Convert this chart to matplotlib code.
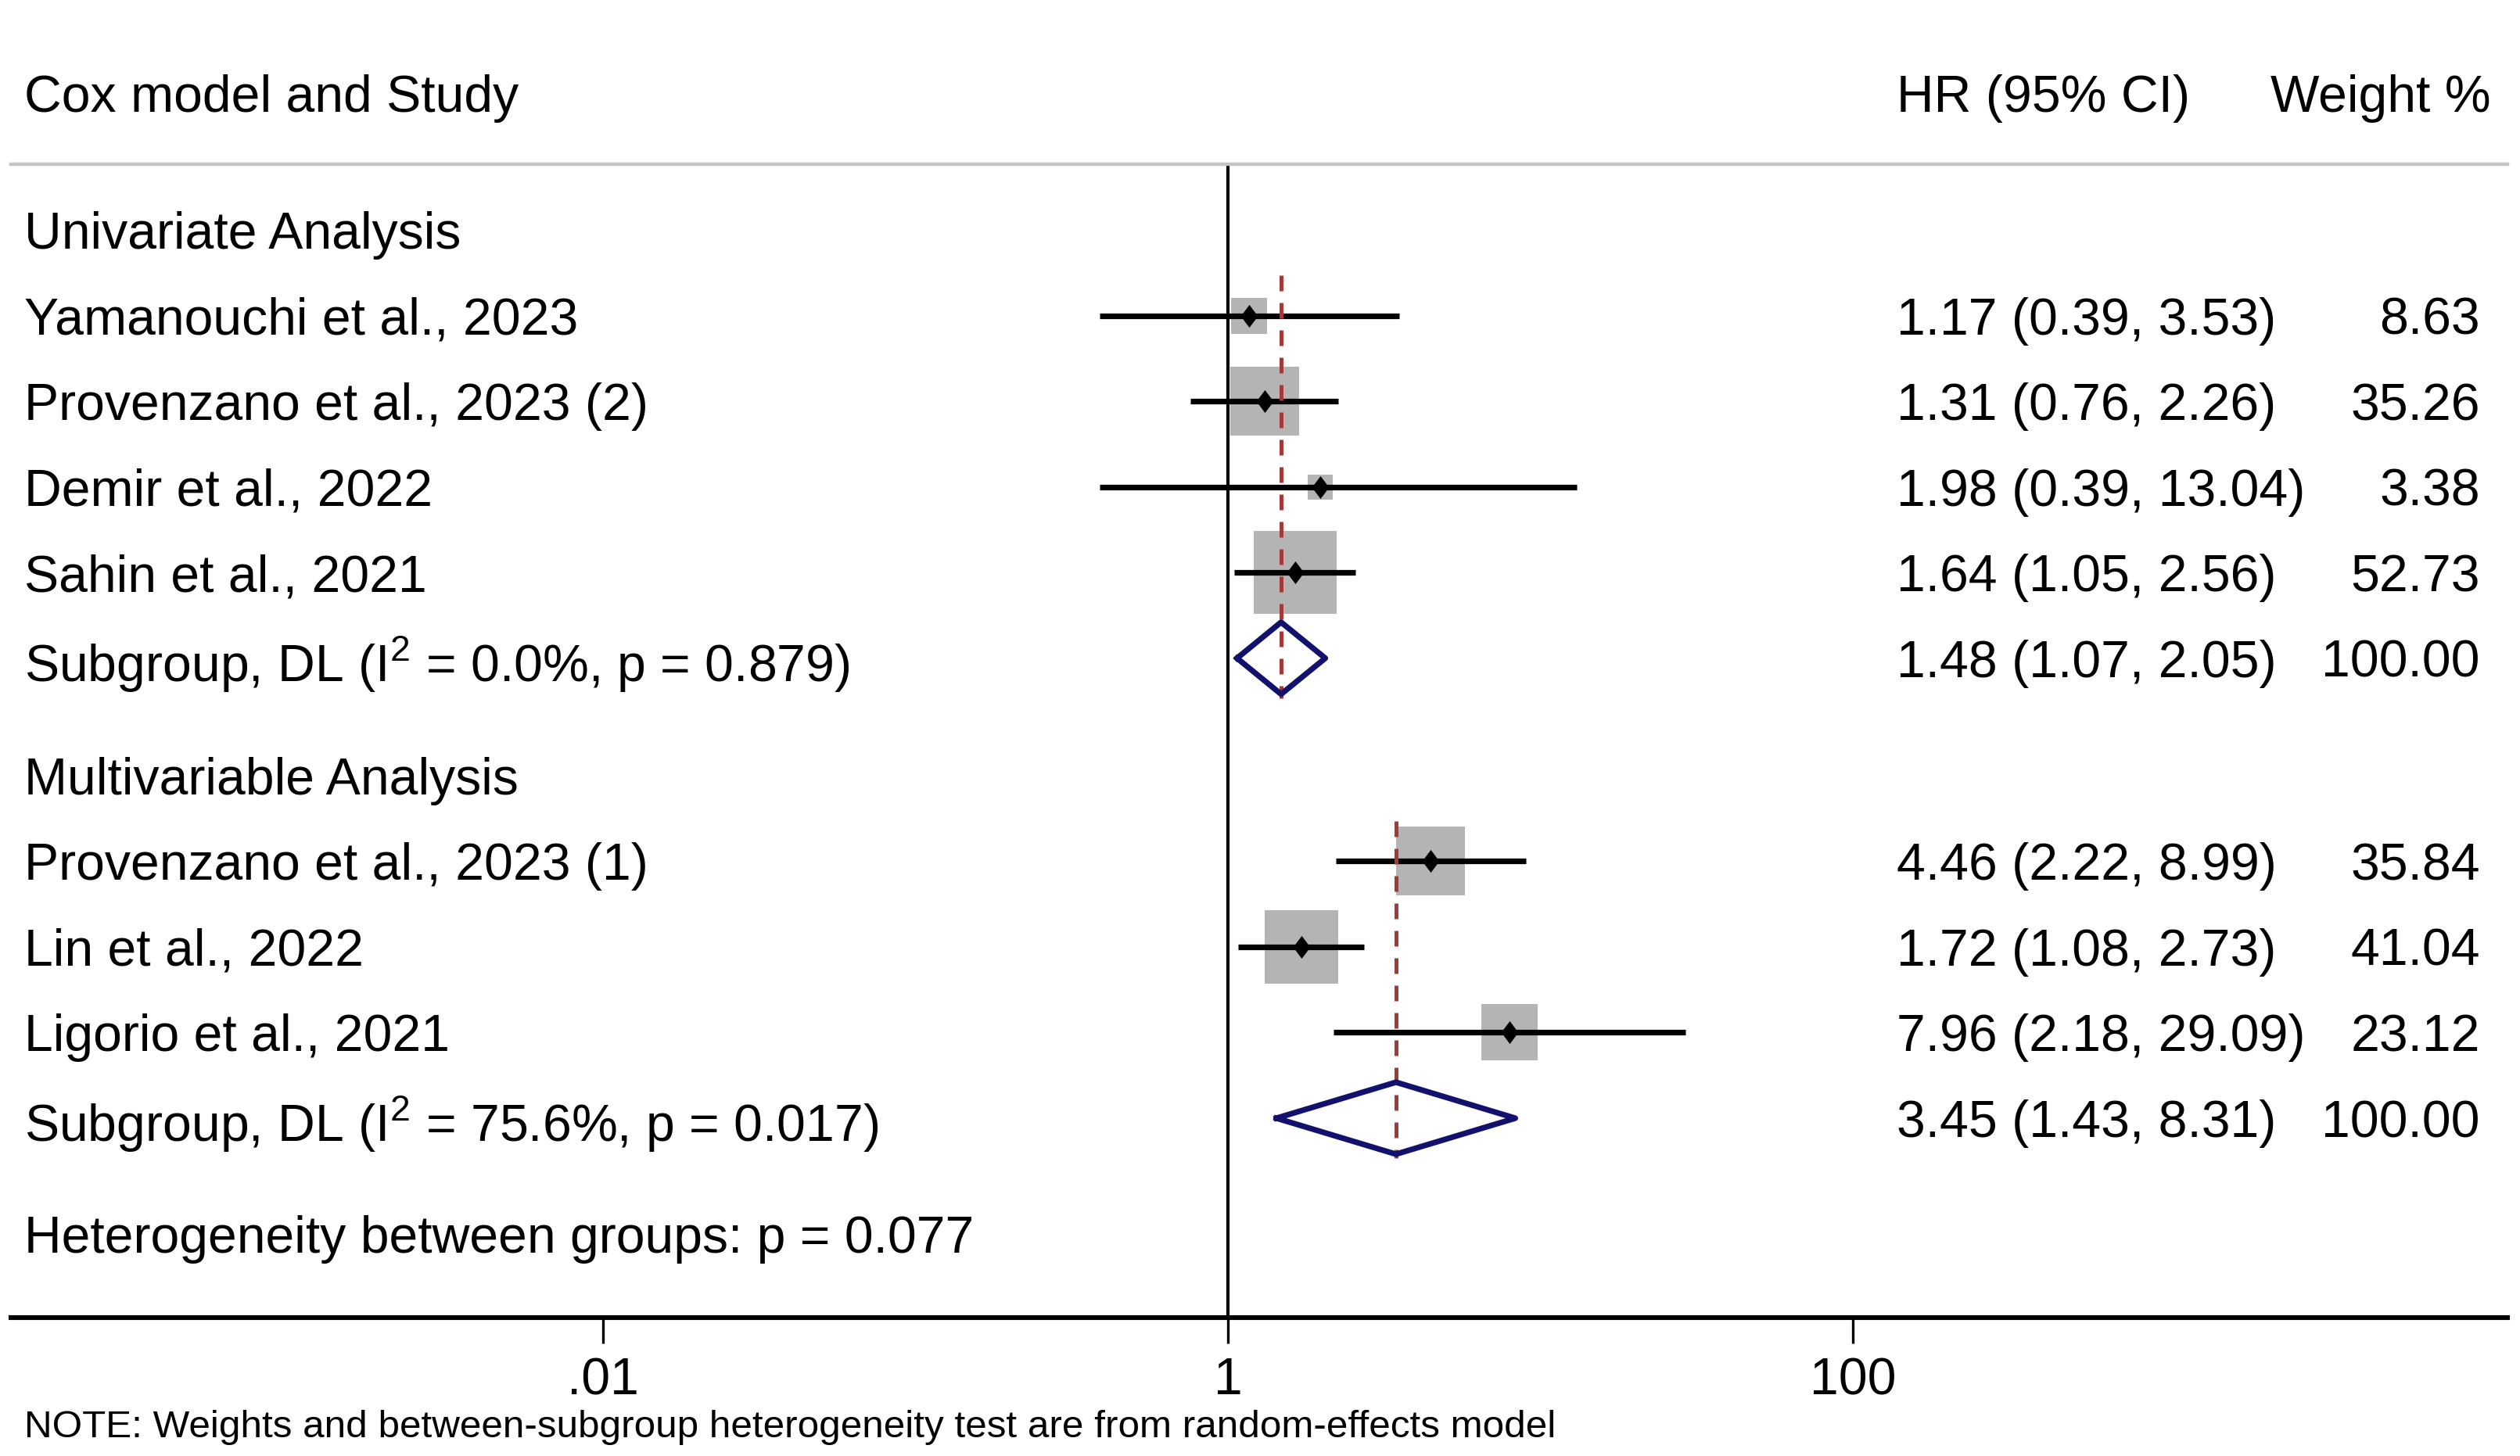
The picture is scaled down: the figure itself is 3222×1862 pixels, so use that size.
import numpy as np
import matplotlib
matplotlib.use('Agg')
import matplotlib.pyplot as plt
from matplotlib.ticker import FixedLocator, FixedFormatter, NullLocator

plt.rcParams['font.family'] = ['Liberation Sans', 'DejaVu Sans']
plt.rcParams['mathtext.fontset'] = 'custom'
plt.rcParams['mathtext.rm'] = 'Liberation Sans'

# data
group_names = ['Univariate Analysis', 'Multivariable Analysis']
studies = [
    'Yamanouchi et al., 2023',
    'Provenzano et al., 2023 (2)',
    'Demir et al., 2022',
    'Sahin et al., 2021',
    'Provenzano et al., 2023 (1)',
    'Lin et al., 2022',
    'Ligorio et al., 2021',
]
study_group = [0, 0, 0, 0, 1, 1, 1]
hr = [1.17, 1.31, 1.98, 1.64, 4.46, 1.72, 7.96]
ci_lo = [0.39, 0.76, 0.39, 1.05, 2.22, 1.08, 2.18]
ci_hi = [3.53, 2.26, 13.04, 2.56, 8.99, 2.73, 29.09]
weight = [8.63, 35.26, 3.38, 52.73, 35.84, 41.04, 23.12]

sub_hr = [1.48, 3.45]
sub_lo = [1.07, 1.43]
sub_hi = [2.05, 8.31]
sub_i2 = ['0.0%', '75.6%']
sub_p = ['0.879', '0.017']
het_p = '0.077'

tick_vals = [0.01, 1, 100]
tick_labels = ['.01', '1', '100']

FS = 23.8
GAP = 1.37

# row layout
rows = []          # (kind, y, index)
y = 0.0
for g in range(len(group_names)):
    rows.append(('group', y, g))
    y += 1
    for i, sg in enumerate(study_group):
        if sg == g:
            rows.append(('study', y, i))
            y += 1
    rows.append(('sub', y, g))
    y += GAP
het_y = y - GAP + 1.35

fig = plt.figure(figsize=(16.11, 9.31), dpi=200)
W, H = 1568.0, 906.0
ax = fig.add_axes([7 / W, 1 - 820 / H, 1553 / W, 718 / H])
ax.set_xscale('log')
dec = 194.5
ax.set_xlim(10 ** ((7 - 764) / dec), 10 ** ((1560 - 764) / dec))
ax.set_ylim(12.70, -0.77)

for s in ['left', 'right']:
    ax.spines[s].set_visible(False)
ax.spines['top'].set_color('#c4c4c4')
ax.spines['top'].set_linewidth(1.6)
ax.spines['bottom'].set_linewidth(2.2)
ax.yaxis.set_visible(False)
ax.xaxis.set_major_locator(FixedLocator(tick_vals))
ax.xaxis.set_major_formatter(FixedFormatter(tick_labels))
ax.xaxis.set_minor_locator(NullLocator())
ax.tick_params(axis='x', length=12, width=1.2, pad=6, labelsize=FS)

ax.axvline(1, color='black', lw=1.5, zorder=1)

tr = ax.get_yaxis_transform()
x_lab, x_ci, x_w = 8 / 1553, 1173 / 1553, 1536 / 1553
red = '#a33a3a'
navy = '#12126e'
dmark = [(0, 1), (0.75, 0), (0, -1), (-0.75, 0), (0, 1)]
px_pt = 72 / 200

ax.text(x_lab, -1.595, 'Cox model and Study', transform=tr, fontsize=FS,
        va='center_baseline', ha='left', clip_on=False)
ax.text(x_ci, -1.595, 'HR (95% CI)', transform=tr, fontsize=FS,
        va='center_baseline', ha='left', clip_on=False)
ax.text(1543 / 1553, -1.595, 'Weight %', transform=tr, fontsize=FS,
        va='center_baseline', ha='right', clip_on=False)

for kind, yy, k in rows:
    if kind == 'group':
        ax.text(x_lab, yy, group_names[k], transform=tr, fontsize=FS,
                va='center_baseline')
    elif kind == 'study':
        side = (6.8 + 13.66 * np.sqrt(weight[k])) * px_pt
        ax.plot([hr[k]], [yy], marker='s', ms=side, color='#b4b4b4',
                mew=0, zorder=2)
        ax.plot([ci_lo[k], ci_hi[k]], [yy, yy], color='black', lw=2.6,
                solid_capstyle='butt', zorder=3)
        ax.plot([hr[k]], [yy], marker=dmark, ms=10.5, color='black',
                mew=0, zorder=5)
        ax.text(x_lab, yy, studies[k], transform=tr, fontsize=FS,
                va='center_baseline')
        ax.text(x_ci, yy, f'{hr[k]:.2f} ({ci_lo[k]:.2f}, {ci_hi[k]:.2f})',
                transform=tr, fontsize=FS, va='center_baseline')
        ax.text(x_w, yy, f'{weight[k]:.2f}', transform=tr, fontsize=FS,
                va='center_baseline', ha='right')
    else:
        g = k
        ys = [r[1] for r in rows if r[0] == 'study' and study_group[r[2]] == g]
        ax.plot([sub_hr[g], sub_hr[g]], [ys[0] - 0.47, yy + 0.47],
                color=red, lw=1.8, dashes=(4, 3), zorder=4)
        h = 0.42
        ax.plot([sub_lo[g], sub_hr[g], sub_hi[g], sub_hr[g], sub_lo[g]],
                [yy, yy - h, yy, yy + h, yy], color=navy, lw=2.6,
                solid_joinstyle='round', zorder=5)
        ax.text(x_lab, yy, f'Subgroup, DL (I$^2$ = {sub_i2[g]}, p = {sub_p[g]})',
                transform=tr, fontsize=FS, va='center_baseline')
        ax.text(x_ci, yy, f'{sub_hr[g]:.2f} ({sub_lo[g]:.2f}, {sub_hi[g]:.2f})',
                transform=tr, fontsize=FS, va='center_baseline')
        ax.text(x_w, yy, '100.00', transform=tr, fontsize=FS,
                va='center_baseline', ha='right')

ax.text(x_lab, het_y, f'Heterogeneity between groups: p = {het_p}',
        transform=tr, fontsize=FS, va='center_baseline')

fig.text(15 / W, 1 - 886 / H,
         'NOTE: Weights and between-subgroup heterogeneity test are from random-effects model',
         fontsize=17.8, va='center_baseline', ha='left')

fig.savefig('out.png', dpi=200, facecolor='white')
